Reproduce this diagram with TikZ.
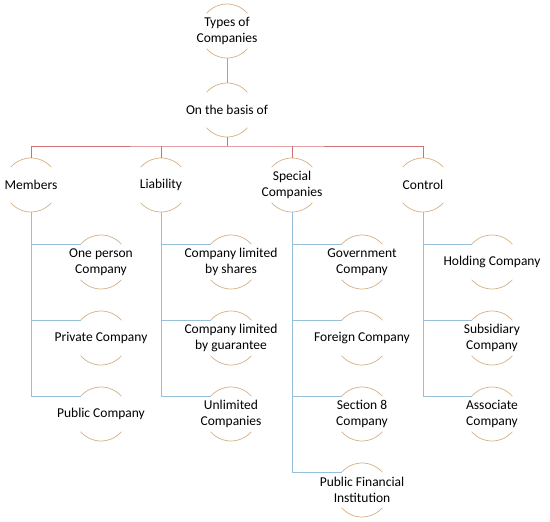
\documentclass[tikz,border=0pt]{standalone}
\usepackage{fontspec}
\setmainfont{Carlito}
\usetikzlibrary{calc}
\definecolor{arccol}{RGB}{214,180,140}
\definecolor{redcol}{RGB}{208,112,112}
\definecolor{bluecol}{RGB}{150,192,218}
\definecolor{tealcol}{RGB}{120,180,190}
\tikzset{
  txt/.style={inner sep=0pt, align=center, font=\fontsize{13.5}{15.5}\selectfont},
  arcline/.style={draw=arccol, line width=0.75pt},
  redline/.style={draw=redcol, line width=0.9pt},
  blueline/.style={draw=bluecol, line width=0.9pt},
  tealline/.style={draw=tealcol, line width=0.9pt}
}
\newcommand\cnode[3]{%
  \node[txt] (#1) at (#2) {#3};
  \coordinate (#1-t) at ($(#1.center)+(90:27)$);
  \coordinate (#1-b) at ($(#1.center)+(270:27)$);
  \coordinate (#1-tl) at ($(#1.center)+(139:27)$);
  \draw[arcline] ($(#1.center)+(41:27)$) arc[start angle=41,end angle=139,radius=27];
  \draw[arcline] ($(#1.center)+(221:27)$) arc[start angle=221,end angle=319,radius=27];
}
\begin{document}
\begin{tikzpicture}[x=1pt,y=1pt]
\useasboundingbox (0,0) rectangle (550,-522);
% root and basis
\cnode{root}{227,-31}{Types of\\Companies}
\cnode{basis}{227,-110}{On the basis of}
\draw[tealline] (root-b) -- (basis-t);
% level 1
\cnode{mem}{31,-185}{Members}
\cnode{lia}{161,-185}{Liability}
\cnode{spe}{292,-185}{Special\\Companies}
\cnode{con}{423,-185}{Control}
\coordinate (bus) at (227,-146);
\draw[redline] (basis-b) -- (bus);
\draw[redline] (mem-t) |- (bus) -| (con-t);
\draw[redline] (lia-t) -- (lia-t |- bus);
\draw[redline] (spe-t) -- (spe-t |- bus);
% Members children
\cnode{m1}{101,-262}{One person\\Company}
\cnode{m2}{101,-338}{Private Company}
\cnode{m3}{101,-414}{Public Company}
% Liability children
\cnode{l1}{231,-262}{Company limited\\by shares}
\cnode{l2}{231,-338}{Company limited\\by guarantee}
\cnode{l3}{231,-414}{Unlimited\\Companies}
% Special children
\cnode{s1}{362,-262}{Government\\Company}
\cnode{s2}{362,-338}{Foreign Company}
\cnode{s3}{362,-414}{Section 8\\Company}
\cnode{s4}{362,-490}{Public Financial\\Institution}
% Control children
\cnode{c1}{492,-262}{Holding Company}
\cnode{c2}{492,-338}{Subsidiary\\Company}
\cnode{c3}{492,-414}{Associate\\Company}
% connectors
\draw[blueline] (mem-b) |- (m3-tl);
\draw[blueline] (mem-b |- m1-tl) -- (m1-tl);
\draw[blueline] (mem-b |- m2-tl) -- (m2-tl);
\draw[blueline] (lia-b) |- (l3-tl);
\draw[blueline] (lia-b |- l1-tl) -- (l1-tl);
\draw[blueline] (lia-b |- l2-tl) -- (l2-tl);
\draw[blueline] (spe-b) |- (s4-tl);
\draw[blueline] (spe-b |- s1-tl) -- (s1-tl);
\draw[blueline] (spe-b |- s2-tl) -- (s2-tl);
\draw[blueline] (spe-b |- s3-tl) -- (s3-tl);
\draw[blueline] (con-b) |- (c3-tl);
\draw[blueline] (con-b |- c1-tl) -- (c1-tl);
\draw[blueline] (con-b |- c2-tl) -- (c2-tl);
\end{tikzpicture}
\end{document}
